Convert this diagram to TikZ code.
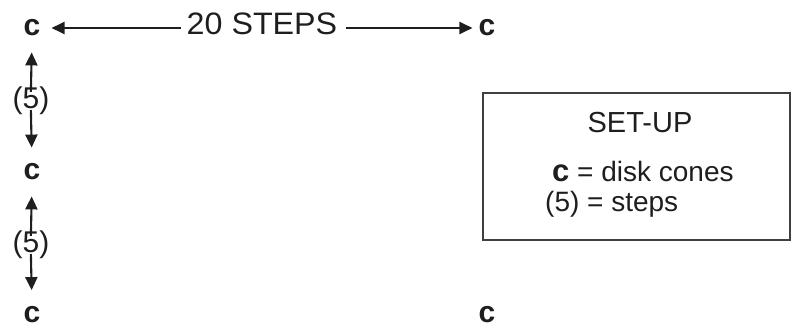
\documentclass[tikz,border=0pt]{standalone}
\usepackage{fontspec}
\setmainfont{Liberation Sans}
\usetikzlibrary{arrows.meta}
\definecolor{ink}{HTML}{1E1E1E}
\tikzset{
  cone/.style={inner sep=0pt, text=ink, font=\fontsize{30}{30}\selectfont\bfseries},
  stepslbl/.style={inner sep=0pt, text=ink, font=\fontsize{31}{31}\selectfont},
  fivelbl/.style={inner sep=0pt, text=ink, font=\fontsize{30}{30}\selectfont},
  boxtxt/.style={inner sep=0pt, text=ink, font=\fontsize{28}{28}\selectfont},
  arr/.style={draw=ink, line width=2.1pt, -{Triangle[length=13pt,width=12pt]}},
  setupbox/.style={draw=ink!85, line width=2pt, inner sep=0pt}
}
\begin{document}
\begin{tikzpicture}[x=1pt,y=-1pt]
\useasboundingbox (0,0) rectangle (793,328);
% cones
\node[cone] (c1) at (32,28) {c};
\node[cone] (c2) at (32,172) {c};
\node[cone] (c3) at (32,314.5) {c};
\node[cone] (c4) at (487,28) {c};
\node[cone] (c5) at (487,314.5) {c};
% top label and arrows
\node[stepslbl] (st) at (262,23.5) {\scalebox{1.04}[1]{20 STEPS}};
\draw[arr, shorten <=6pt, shorten >=11pt] (st.west |- c1) -- (c1.east);
\draw[arr, shorten <=9pt, shorten >=6pt] (st.east |- c4) -- (c4.west);
% vertical labels and arrows
\node[fivelbl] (p1) at (31,101) {(5)};
\node[fivelbl] (p2) at (31,245) {(5)};
\draw[arr, shorten <=-5pt, shorten >=16pt] (p1.north) -- (c1.south);
\draw[arr, shorten <=-5pt, shorten >=16pt] (p1.south) -- (c2.north);
\draw[arr, shorten <=-5pt, shorten >=16pt] (p2.north) -- (c2.south);
\draw[arr, shorten <=-5pt, shorten >=16pt] (p2.south) -- (c3.north);
% set-up box
\draw[setupbox] (483,93) rectangle (790,240);
\node[boxtxt, font=\fontsize{29}{29}\selectfont] (su) at (640,122.5) {SET-UP};
\node[boxtxt, anchor=base west] (l1) at (552,182) {{\fontsize{31}{31}\selectfont\bfseries c} = disk cones};
\node[boxtxt, anchor=base west] (l2) at (545,212) {(5) = steps};
\end{tikzpicture}
\end{document}
